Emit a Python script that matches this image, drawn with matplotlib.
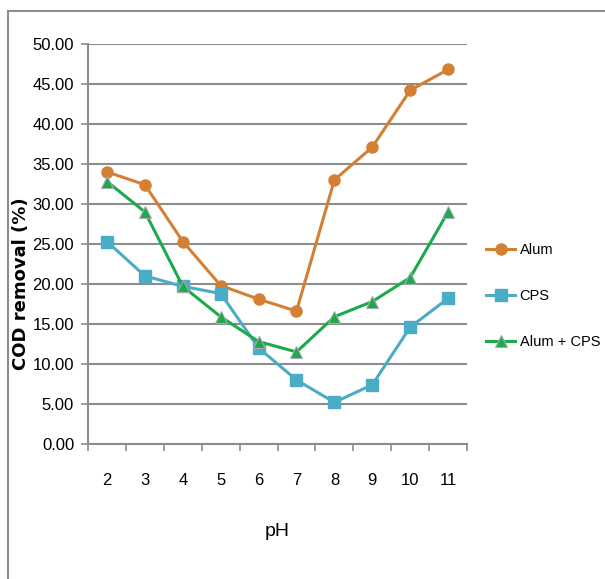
import matplotlib.pyplot as plt
from matplotlib.patches import Rectangle
import numpy as np

ph = ["2", "3", "4", "5", "6", "7", "8", "9", "10", "11"]
alum = [34.0, 32.4, 25.3, 19.8, 18.1, 16.6, 33.0, 37.1, 44.2, 46.8]
cps = [25.3, 21.0, 19.7, 18.8, 12.0, 8.0, 5.2, 7.4, 14.6, 18.2]
alum_cps = [32.8, 29.0, 19.7, 15.9, 12.8, 11.5, 15.9, 17.8, 20.8, 29.0]

plt.rcParams['font.family'] = ['Liberation Sans', 'DejaVu Sans']

fig = plt.figure(figsize=(6.05, 5.79), dpi=100)
ax = fig.add_axes([0.1455, 0.2332, 0.6265, 0.691])

# outer frame (only left and top visible)
fig.patches.append(Rectangle((8 / 605, -0.1), 1.2, 1 - 11 / 579 + 0.1, transform=fig.transFigure,
                             fill=False, edgecolor='#8c8c8c', linewidth=1.5))

x = np.arange(len(ph))
ax.plot(x, alum, color='#D38035', linewidth=2.2, marker='o', markersize=8, label='Alum')
ax.plot(x, cps, color='#4BACC6', linewidth=2.2, marker='s', markersize=8, label='CPS')
ax.plot(x, alum_cps, color='#1DAA4A', linewidth=2.2, marker='^', markersize=8,
        markeredgecolor='#a8a8b8', markeredgewidth=0.8, label='Alum + CPS')

ax.set_xlim(-0.5, len(ph) - 0.5)
ax.set_ylim(0, 50)
ax.set_yticks(np.arange(0, 51, 5))
ax.set_yticklabels([f'{v:.2f}' for v in np.arange(0, 51, 5)], fontsize=12)
ax.set_xticks(x)
ax.set_xticklabels(ph, fontsize=12)
ax.set_xticks(np.arange(-0.5, len(ph), 1), minor=True)
ax.tick_params(axis='x', which='major', length=0, pad=21)
ax.tick_params(axis='x', which='minor', length=5, color='#8c8c8c', width=1.2)
ax.tick_params(axis='y', length=5, color='#8c8c8c', width=1.2, pad=5)

ax.yaxis.grid(True, color='#8c8c8c', linewidth=1.5)
ax.set_axisbelow(True)
for s in ['top', 'right']:
    ax.spines[s].set_visible(False)
for s in ['left', 'bottom']:
    ax.spines[s].set_color('#8c8c8c')
    ax.spines[s].set_linewidth(1.5)

ax.set_ylabel('COD removal (%)', family='DejaVu Sans', fontsize=13, fontweight='bold')
ax.yaxis.set_label_coords(-0.153, 0.40)
ax.set_xlabel('pH', fontsize=14)
ax.xaxis.set_label_coords(0.5, -0.198)

ax.legend(loc='center left', bbox_to_anchor=(486 / 605, 1 - 296 / 579),
          bbox_transform=fig.transFigure, frameon=False, fontsize=10.5,
          handlelength=2.0, labelspacing=2.2, handletextpad=0.3,
          borderpad=0, borderaxespad=0)

fig.savefig('out.png', dpi=100)
